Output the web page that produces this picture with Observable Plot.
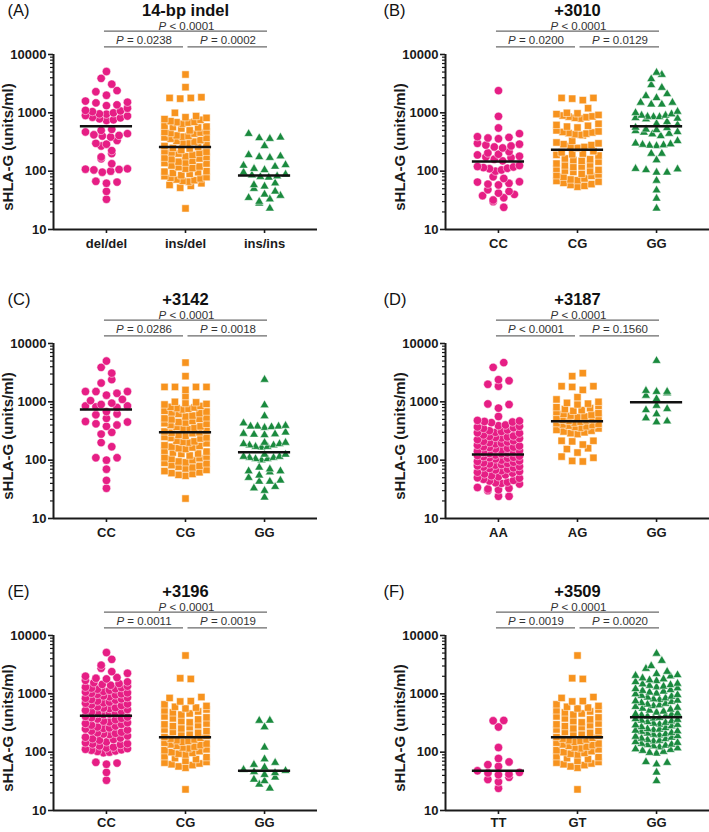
<!DOCTYPE html>
<html><head><meta charset="utf-8">
<script src="https://cdn.jsdelivr.net/npm/d3@7"></script>
<script src="https://cdn.jsdelivr.net/npm/@observablehq/plot@0.6"></script>
<style>
html,body{margin:0;padding:0;background:#fff;overflow:hidden;}
#fig{position:relative;width:709px;height:832px;overflow:hidden;}
.panel{position:absolute;}
.panel svg{position:absolute;left:0;top:0;overflow:visible;}
</style></head><body><div id="fig"></div>
<script>
// ---------- data ----------
const panelLetters = ["(A)", "(B)", "(C)", "(D)", "(E)", "(F)"];
const panelTitles = ["14-bp indel", "+3010", "+3142", "+3187", "+3196", "+3509"];
const genotypes = [
  ["del/del", "ins/del", "ins/ins"],
  ["CC", "CG", "GG"],
  ["CC", "CG", "GG"],
  ["AA", "AG", "GG"],
  ["CC", "CG", "GG"],
  ["TT", "GT", "GG"]
];
const pOverall = ["P < 0.0001", "P < 0.0001", "P < 0.0001", "P < 0.0001", "P < 0.0001", "P < 0.0001"];
const pFirstSecond = ["P = 0.0238", "P = 0.0200", "P = 0.0286", "P < 0.0001", "P = 0.0011", "P = 0.0019"];
const pSecondThird = ["P = 0.0002", "P = 0.0129", "P = 0.0018", "P = 0.1560", "P = 0.0019", "P = 0.0020"];
const medians = [
  [590, 260, 84],
  [147, 232, 591],
  [740, 302, 137],
  [125, 466, 986],
  [420, 181, 48],
  [48, 181, 398]
];
const yTicks = [10, 100, 1000, 10000];
const yMinorTicks = [20,30,40,50,60,70,80,90,200,300,400,500,600,700,800,900,2000,3000,4000,5000,6000,7000,8000,9000];

// sHLA-G (units/ml) per genotype
const aDelDel = [5100,3900,3100,2400,2300,2000,1590,1520,1480,1370,1330,1200,1100,1050,960,900,840,790,740,760,820,880,950,1000,1080,520,500,470,410,400,385,420,440,336,300,270,290,225,200,175,163,134,110,107,96,100,105,108,67,62,65,45,33];
const aInsDel = [4540,2750,1850,1750,1800,1800,1000,880,840,820,780,760,720,700,690,680,650,600,580,570,560,540,500,480,470,460,450,440,410,400,390,380,370,360,340,330,320,310,300,280,270,260,250,245,230,220,215,210,205,200,190,180,175,170,165,160,150,145,140,138,135,125,120,117,113,110,100,98,96,93,90,85,82,79,77,75,72,70,68,66,62,58,56,52,23];
const aInsIns = [437,380,370,360,270,190,180,175,170,128,125,120,110,105,95,88,85,82,80,78,62,58,55,50,45,40,38,35,33,30,28,23];

const bCC = [2400,870,550,440,390,380,370,360,300,290,280,270,260,250,215,205,195,190,180,175,170,160,150,125,120,118,115,112,110,105,100,80,75,66,65,62,60,58,48,45,42,40,38,35,32,30,24];
const bCG = [1800,1650,1800,1750,1200,1000,950,900,870,840,800,820,860,920,980,620,600,580,560,650,500,470,450,430,420,410,440,460,480,330,310,300,290,280,270,260,250,220,210,200,195,190,185,165,160,155,150,145,135,130,125,120,118,110,105,102,100,97,90,88,85,83,80,75,72,70,68,66,63,60,58,56,54];
const bGG = [4900,4500,3800,3000,2700,2100,1800,1950,1500,1400,1400,1500,1050,1000,900,850,800,780,820,850,900,860,950,700,650,620,560,520,490,470,440,400,430,460,510,550,290,280,270,275,285,300,330,200,200,155,110,105,95,95,108,69,47,34,23];

const cCC = [5000,3900,3100,2400,2100,1500,1300,1500,1400,1500,1100,1050,950,900,850,800,850,820,600,620,680,450,420,380,400,460,520,280,300,170,200,100,110,110,70,45,33];
const cCG = [4700,2750,1800,1800,1800,1600,1800,1250,1000,980,950,920,900,850,820,800,780,760,740,700,680,660,640,620,580,560,540,520,510,500,470,450,440,430,420,400,380,370,360,350,340,320,310,300,295,290,270,260,250,245,240,235,215,210,205,200,195,180,175,170,165,160,155,145,140,135,130,128,120,115,112,108,105,100,95,92,90,88,82,80,77,75,72,68,65,62,60,58,56,54,22];
const cGG = [2400,880,570,430,380,360,390,380,370,380,300,280,270,275,285,200,190,180,170,165,170,180,190,200,125,115,110,105,100,105,110,115,125,75,65,62,65,70,55,45,43,43,50,33,30,35,23];

const dAA = [4700,3900,2400,2300,2000,1850,900,780,920,560,480,470,460,450,440,400,390,380,370,360,350,330,320,310,300,295,290,270,260,255,250,245,240,235,225,215,210,205,200,195,190,180,175,170,167,165,160,155,148,145,142,138,135,132,130,128,122,120,117,115,112,110,108,105,100,97,95,92,90,88,86,84,82,80,78,76,74,72,70,68,66,64,62,60,58,56,54,52,50,49,47,45,44,42,41,40,39,34,33,32,31,30,24,24];
const dAG = [3100,2750,1850,1600,1800,1850,1100,1200,1000,960,930,900,850,810,780,750,720,700,670,640,620,600,580,560,545,530,515,500,490,480,470,455,440,430,420,410,400,390,380,370,360,350,330,320,310,300,290,280,215,210,215,185,160,155,135,110,95,97,115];
const dGG = [5060,1550,1490,1410,1490,1280,1120,860,757,724,617,525,448,464];

const eCC = [5100,3900,2750,3100,2400,2250,2000,1900,1850,1800,1700,1600,1550,1500,1450,1400,1350,1300,1280,1250,1220,1200,1150,1100,1070,1040,1020,1000,980,960,920,890,860,840,820,800,780,750,720,700,690,670,650,630,600,580,570,560,540,520,500,490,470,460,450,440,410,400,390,380,370,360,340,330,320,310,300,290,280,270,260,255,250,240,230,220,215,210,205,200,190,180,175,170,165,160,150,145,140,138,135,128,122,118,115,112,110,108,105,103,100,98,67,62,65,45,33];
const eCG = [4540,1850,1800,850,750,880,740,660,620,600,580,560,540,520,500,480,460,440,410,395,380,365,340,325,310,300,290,280,268,255,245,230,222,215,208,200,190,182,176,170,165,160,155,150,145,140,136,132,128,124,120,116,112,108,104,100,97,94,91,85,82,79,76,71,68,66,64,62,60,57,54,23];
const eGG = [349,347,269,121,76,66,61,55,50,48,46,44,41,37,34,32,28,24];

const fTT = [350,345,270,120,78,68,61,57,48,45,42,41,44,37,34,31,24];
const fGT = [4540,1850,1800,850,750,880,740,660,620,600,580,560,540,520,500,480,460,440,410,395,380,365,340,325,310,300,290,280,268,255,245,230,222,215,208,200,190,182,176,170,165,160,155,150,145,140,136,132,128,124,120,116,112,108,104,100,97,94,91,85,82,79,76,71,68,66,64,62,60,57,54,23];
const fGG = [4900,3700,2700,3000,2400,2200,2100,2050,2000,1850,1780,1720,1660,1600,1500,1460,1420,1380,1340,1300,1250,1210,1170,1130,1100,1060,1020,990,960,930,900,870,840,810,790,770,750,730,700,680,660,640,620,600,580,560,540,520,500,480,460,450,440,430,420,410,390,380,370,360,350,340,330,320,310,300,295,290,280,270,260,250,245,240,235,230,225,215,210,205,200,195,190,185,178,172,168,163,158,154,150,145,140,136,133,130,127,122,117,113,110,106,102,98,95,66,62,68,45,32];

const groupValues = [
  [aDelDel, aInsDel, aInsIns],
  [bCC, bCG, bGG],
  [cCC, cCG, cGG],
  [dAA, dAG, dGG],
  [eCC, eCG, eGG],
  [fTT, fGT, fGG]
];

// ---------- styling / layout ----------
const FONT = '"Liberation Sans", Arial, Helvetica, sans-serif';
const COLORS = ["#E61E85", "#F7931E", "#1A8A3E"];
const SYMBOLS = ["circle", "square", "triangle"];
const RADII = [4.2, 4.1, 3.3];
const AXIS = "#1a1a1a";
const COLS = [
  {left: 0, width: 354, ml: 53, mr: 37, letterDx: -46},
  {left: 354, width: 355, ml: 91, mr: 0, letterDx: -62}
];
const ROWS = [
  {top: 0, mb: 25, pad: 5},
  {top: 289, mb: 25, pad: 5},
  {top: 581, mb: 22, pad: 3}
];
const MT = 54, PH = 175;
const XDOM = [-0.67, 2.67];
const MEDIAN_HALF = 0.33;        // half length of the median bar, in category units
// scatter-dot layout (Prism-like rows)
const ROW_H = 6, MAX_IN_ROW = 8, ROW_SPAN = 42, MAX_STEP = 10.6;

// spread the values of one group into rows; returns horizontal offsets in px
function scatterLayout(vals) {
  const sorted = vals.slice().sort((p, q) => p - q);
  const ypx = v => PH * (Math.log10(v) - 1) / 3;
  const rows = [];
  let cur = null;
  for (const v of sorted) {
    const y = ypx(v);
    if (!cur || y - cur.y0 >= ROW_H || cur.vals.length >= MAX_IN_ROW) {
      cur = {y0: y, vals: []};
      rows.push(cur);
    }
    cur.vals.push(v);
  }
  const out = [];
  rows.forEach((row, ri) => {
    const n = row.vals.length;
    const step = n > 1 ? Math.min(MAX_STEP, ROW_SPAN / (n - 1)) : 0;
    const pos = d3.range(n).map(j => (j - (n - 1) / 2) * step);
    const flip = ri % 2 ? 1 : -1;
    pos.sort((a, b) => Math.abs(a) - Math.abs(b) || flip * (a - b));
    row.vals.forEach((v, j) => out.push({v, off: pos[j]}));
  });
  return out;
}

function italicP(svg) {
  svg.querySelectorAll("text").forEach(t => {
    const s = t.textContent;
    if (/^P [<=]/.test(s) && t.childNodes.length === 1) {
      t.textContent = "";
      const ts = document.createElementNS("http://www.w3.org/2000/svg", "tspan");
      ts.setAttribute("font-style", "italic");
      ts.textContent = "P";
      t.appendChild(ts);
      t.appendChild(document.createTextNode(s.slice(1)));
    }
  });
}

function drawPanel(i) {
  const col = COLS[i % 2];
  const row = ROWS[Math.floor(i / 2)];
  const cats = genotypes[i];
  const H = MT + PH + row.mb;
  const pxPerUnit = (col.width - col.ml - col.mr) / (XDOM[1] - XDOM[0]);

  const brackets = [
    {a: 0, b: 2, t: pOverall[i], lvl: -23.4, tdy: -28.6, il: -2, ir: -3, tdx: 1},
    {a: 0, b: 1, t: pFirstSecond[i], lvl: -7.7, tdy: -13.9, il: -2, ir: 2, tdx: -2},
    {a: 1, b: 2, t: pSecondThird[i], lvl: -7.7, tdy: -13.9, il: 2.5, ir: -3, tdx: 3}
  ];
  const medRows = medians[i].map((m, k) => ({k, m}));

  const dotMarks = groupValues[i].map((vals, k) => {
    const pts = scatterLayout(vals);
    return Plot.dot(pts, {
      x: d => k + d.off / pxPerUnit, y: "v", r: RADII[k],
      symbol: SYMBOLS[k], fill: COLORS[k], stroke: "white", strokeWidth: 0.5
    });
  });

  const svg = Plot.plot({
    width: col.width, height: H,
    marginLeft: col.ml, marginRight: col.mr, marginTop: MT, marginBottom: row.mb,
    x: {domain: XDOM, axis: null},
    y: {type: "log", domain: [10, 10000], axis: null},
    style: {fontFamily: FONT, fontSize: "13px", fontWeight: "bold", color: AXIS, background: "transparent", overflow: "visible"},
    marks: [
      Plot.axisY({ticks: yMinorTicks, tickSize: 3, tickFormat: () => "", strokeWidth: 1.2, label: null}),
      Plot.axisY({ticks: yTicks, tickSize: 5, tickPadding: 2, tickFormat: d => String(d), strokeWidth: 1.6, label: null, fontSize: 13, fontWeight: "bold"}),
      Plot.axisX({ticks: [0, 1, 2], tickSize: 4, tickPadding: row.pad, tickFormat: k => cats[k], strokeWidth: 1.6, label: null, fontSize: 13, fontWeight: "bold"}),
      Plot.ruleX([XDOM[0]], {stroke: AXIS, strokeWidth: 2}),
      Plot.ruleY([10], {stroke: AXIS, strokeWidth: 2}),
      Plot.text(["sHLA-G (units/ml)"], {frameAnchor: "left", textAnchor: "middle", lineAnchor: "middle", dx: -45, dy: 5, rotate: -90, fontSize: 15, fontWeight: "bold", fill: "#1a1a1a"}),
      Plot.text([panelTitles[i]], {x: 1, frameAnchor: "top", lineAnchor: "middle", dy: -44, fontSize: 16.5, fontWeight: "bold", fill: "#111"}),
      Plot.text([panelLetters[i]], {frameAnchor: "top-left", dx: col.letterDx, dy: -43.5, textAnchor: "start", lineAnchor: "middle", fontSize: 16.5, fontWeight: "normal", fill: "#111"}),
      ...brackets.map(b => Plot.ruleY([10000], {x1: () => b.a, x2: () => b.b, dy: b.lvl, insetLeft: b.il, insetRight: b.ir, stroke: "#6a6a6a", strokeWidth: 1.3})),
      ...brackets.map(b => Plot.text([b.t], {x: () => (b.a + b.b) / 2, frameAnchor: "top", lineAnchor: "middle", dx: b.tdx, dy: b.tdy, fontSize: 11.5, fontWeight: "normal", fill: "#333"})),
      ...dotMarks,
      Plot.ruleY(medRows, {x1: d => d.k - MEDIAN_HALF, x2: d => d.k + MEDIAN_HALF, y: "m", stroke: "#111", strokeWidth: 2.5})
    ]
  });
  italicP(svg);

  const div = document.createElement("div");
  div.className = "panel";
  div.style.left = col.left + "px";
  div.style.top = row.top + "px";
  div.style.width = col.width + "px";
  div.style.height = H + "px";
  div.append(svg);
  document.getElementById("fig").append(div);
}

for (let i = 0; i < 6; i++) drawPanel(i);
</script></body></html>
